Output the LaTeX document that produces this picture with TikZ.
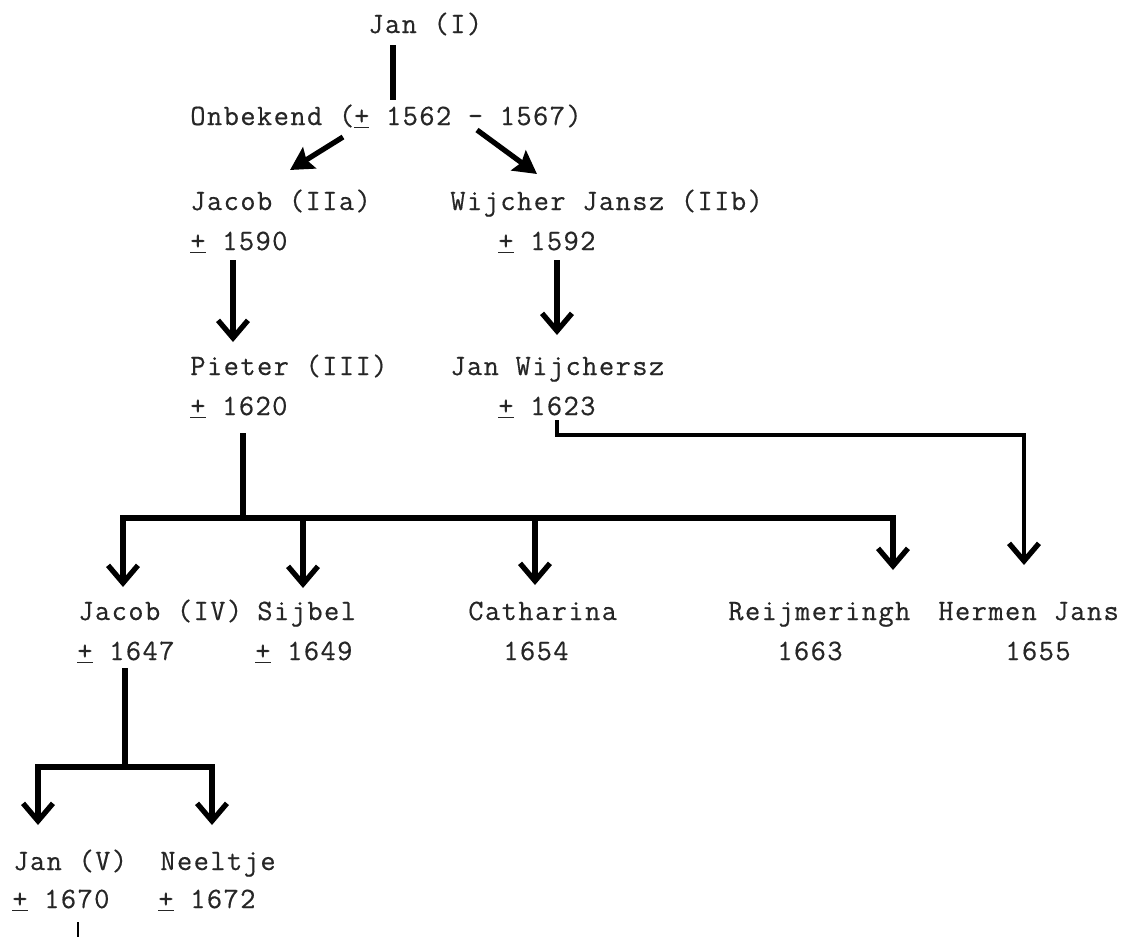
\documentclass[tikz,border=0pt]{standalone}
\usepackage{fontspec}
\newfontfamily\typefont{Latin Modern Mono}[LetterSpace=5.0,FakeBold=0.5]
\usetikzlibrary{arrows.meta,calc}
\newcommand\typer{\typefont\fontsize{16.8}{18}\selectfont}
\newcommand\ongeveer{\underline{+}}
\tikzset{
  person/.style={anchor=base west, inner sep=0pt, font=\typer, text=black!85},
  tie/.style={line width=3pt},
  kid/.style={tie, -{Straight Barb[length=10pt,width=17pt,line width=3pt]}},
  heir/.style={tie, -{Stealth[length=13pt,width=14pt,inset=2pt]}},
}
\begin{document}
\begin{tikzpicture}[x=0.02cm,y=-0.02cm]
\useasboundingbox (0,0) rectangle (1127,937);
\node[person] (jan1) at (368,33) {Jan (I)};
\node[person] (onbekend) at (190,125) {Onbekend (\ongeveer{} 1562 - 1567)};
\node[person] (jacob2) at (190,210) {Jacob (IIa)};
\node[person] (jacob2d) at (190,250) {\ongeveer{} 1590};
\node[person] (wijcher) at (450,210) {Wijcher Jansz (IIb)};
\node[person] (wijcherd) at (498,250) {\ongeveer{} 1592};
\node[person] (pieter) at (190,375) {Pieter (III)};
\node[person] (pieterd) at (190,415) {\ongeveer{} 1620};
\node[person] (janw) at (450,375) {Jan Wijchersz};
\node[person] (janwd) at (498,415) {\ongeveer{} 1623};
\node[person] (jacob4) at (78,620) {Jacob (IV)};
\node[person] (jacob4d) at (77,660) {\ongeveer{} 1647};
\node[person] (sijbel) at (257,620) {Sijbel};
\node[person] (sijbeld) at (255,660) {\ongeveer{} 1649};
\node[person] (catharina) at (468,620) {Catharina};
\node[person] (catharinad) at (503,660) {1654};
\node[person] (reijm) at (728,620) {Reijmeringh};
\node[person] (reijmd) at (777,660) {1663};
\node[person] (hermen) at (938,620) {Hermen Jans};
\node[person] (hermend) at (1005,660) {1655};
\node[person] (jan5) at (13,870) {Jan (V)};
\node[person] (jan5d) at (12,908) {\ongeveer{} 1670};
\node[person] (neeltje) at (160,870) {Neeltje};
\node[person] (neeltjed) at (158,908) {\ongeveer{} 1672};
% forks
\coordinate (fork1) at ($(pieterd.base west)+(53,103)$);
\coordinate (bend1) at ($(janwd.base west)+(59,20)$);
\coordinate (fork2) at ($(jacob4d.base west)+(48,107)$);
\draw[tie] ($(jan1.base west)+(25,12)$) -- ($(onbekend.base west)+(203,-25)$);
\draw[heir] ($(onbekend.base west)+(153,12)$) -- ($(jacob2.base west)+(100,-40)$);
\draw[heir] ($(onbekend.base west)+(287,5)$) -- ($(wijcher.base west)+(87,-36)$);
\draw[kid] ($(jacob2d.base west)+(43,10)$) -- ($(pieter.base west)+(43,-33)$);
\draw[kid] ($(wijcherd.base west)+(59,10)$) -- ($(janw.base west)+(107,-40)$);
\draw[tie] ($(pieterd.base west)+(53,18)$) -- (fork1);
\draw[kid] (fork1) -| ($(jacob4.base west)+(45,-33)$);
\draw[kid] (fork1) -| ($(sijbel.base west)+(46,-32)$);
\draw[kid] (fork1) -| ($(catharina.base west)+(67,-35)$);
\draw[kid] (fork1) -| ($(reijm.base west)+(165,-50)$);
\draw[kid, line width=2.5pt] ($(janwd.base west)+(59,5)$) -- (bend1) -| ($(hermen.base west)+(86,-55)$);
\draw[tie] ($(jacob4d.base west)+(48,8)$) -- (fork2);
\draw[kid] (fork2) -| ($(jan5.base west)+(25,-45)$);
\draw[kid] (fork2) -| ($(neeltje.base west)+(52,-45)$);
\draw[line width=0.8pt] ($(jan5d.base west)+(66,14)$) -- ($(jan5d.base west)+(66,29)$);
\end{tikzpicture}
\end{document}
